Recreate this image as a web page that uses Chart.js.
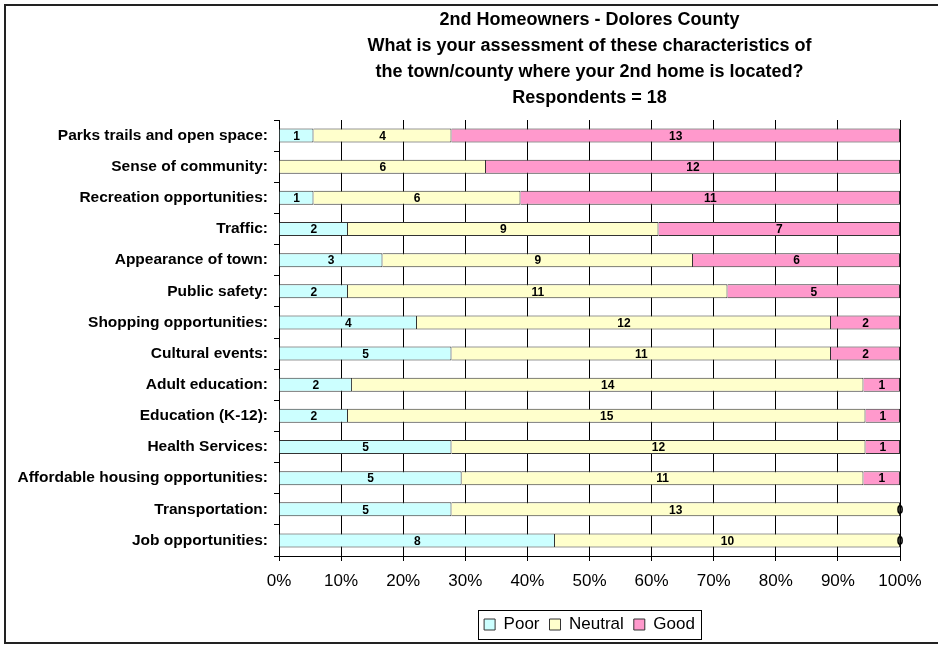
<!DOCTYPE html>
<html>
<head>
<meta charset="utf-8">
<script src="https://cdn.jsdelivr.net/npm/chart.js@4/dist/chart.umd.min.js"></script>
<style>
html,body{margin:0;padding:0;background:#fff;}
#wrap{width:938px;height:646px;position:relative;}
</style>
</head>
<body>
<div id="wrap"><canvas id="c" width="938" height="646"></canvas></div>
<script>
const categories = [
  "Parks trails and open space:",
  "Sense of community:",
  "Recreation opportunities:",
  "Traffic:",
  "Appearance of town:",
  "Public safety:",
  "Shopping opportunities:",
  "Cultural events:",
  "Adult education:",
  "Education (K-12):",
  "Health Services:",
  "Affordable housing opportunities:",
  "Transportation:",
  "Job opportunities:"
];
const poor    = [1, null, 1, 2, 3, 2, 4, 5, 2, 2, 5, 5, 5, 8];
const neutral = [4, 6, 6, 9, 9, 11, 12, 11, 14, 15, 12, 11, 13, 10];
const good    = [13, 12, 11, 7, 6, 5, 2, 2, 1, 1, 1, 1, 0, 0];
const seriesNames = ["Poor", "Neutral", "Good"];
const titleLines = [
  "2nd Homeowners - Dolores County",
  "What is your assessment of these characteristics of",
  "the town/county where your 2nd home is located?",
  "Respondents = 18"
];

const totals = categories.map((_, i) => (poor[i] || 0) + (neutral[i] || 0) + (good[i] || 0));
const pct = arr => arr.map((v, i) => v == null ? null : v / totals[i] * 100);
const raw = [poor, neutral, good];
const FONT = "'Liberation Sans', Arial, Helvetica, sans-serif";

const frame = {
  id: 'frame',
  afterDraw(chart) {
    const ctx = chart.ctx;
    ctx.save();
    ctx.strokeStyle = '#222';
    ctx.lineWidth = 2;
    ctx.beginPath();
    ctx.moveTo(940, 5); ctx.lineTo(5, 5); ctx.lineTo(5, 643); ctx.lineTo(940, 643);
    ctx.stroke();
    const lg = chart.legend;
    if (lg && lg.legendHitBoxes && lg.legendHitBoxes.length) {
      const hb = lg.legendHitBoxes;
      const l = Math.min(...hb.map(b => b.left)) - 6;
      const r = Math.max(...hb.map(b => b.left + b.width)) + 6;
      const t = Math.min(...hb.map(b => b.top)) - 6;
      const btm = Math.max(...hb.map(b => b.top + b.height)) + 6;
      ctx.lineWidth = 1;
      ctx.strokeStyle = '#000';
      ctx.strokeRect(Math.round(l) + 0.5, Math.round(t) + 0.5, Math.round(r - l), Math.round(btm - t));
    }
    ctx.restore();
  }
};

const labelsPlugin = {
  id: 'barLabels',
  afterDatasetsDraw(chart) {
    const ctx = chart.ctx;
    ctx.save();
    ctx.font = "bold 12px " + FONT;
    ctx.fillStyle = '#000';
    ctx.textAlign = 'center';
    ctx.textBaseline = 'middle';
    chart.data.datasets.forEach((ds, di) => {
      const meta = chart.getDatasetMeta(di);
      meta.data.forEach((el, i) => {
        const v = raw[di][i];
        if (v == null) return;
        const p = el.getProps(['x', 'y', 'base'], true);
        ctx.fillText(String(v), (p.x + p.base) / 2, p.y + 1);
      });
    });
    ctx.restore();
  }
};

Chart.defaults.color = '#000';
Chart.defaults.font.family = FONT;

new Chart(document.getElementById('c'), {
  type: 'bar',
  data: {
    labels: categories,
    datasets: [
      { label: seriesNames[0], data: pct(poor), backgroundColor: '#CCFFFF', borderColor: '#333', borderWidth: 1 },
      { label: seriesNames[1], data: pct(neutral), backgroundColor: '#FFFFCC', borderColor: '#333', borderWidth: 1 },
      { label: seriesNames[2], data: pct(good), backgroundColor: '#FF99CC', borderColor: '#333', borderWidth: 1 }
    ]
  },
  options: {
    indexAxis: 'y',
    responsive: false,
    animation: false,
    layout: { padding: { left: 10, right: 38, top: 0, bottom: 3 } },
    datasets: { bar: { barPercentage: 0.45, categoryPercentage: 1 } },
    scales: {
      x: {
        stacked: true,
        min: 0, max: 100,
        ticks: { stepSize: 10, callback: v => v + '%', font: { size: 17 }, color: '#000', padding: 10 },
        grid: { color: '#000', lineWidth: 1, tickLength: 5, drawOnChartArea: true },
        border: { color: '#000', width: 1 },
        afterFit: s => { s.height = 50; }
      },
      y: {
        stacked: true,
        ticks: { font: { size: 15.5, weight: 'bold' }, color: '#000', padding: 6 },
        grid: { drawOnChartArea: false, color: '#000', tickLength: 5, offset: true },
        border: { color: '#000', width: 1 },
        afterFit: s => { s.width = 269; }
      }
    },
    plugins: {
      title: {
        display: true,
        text: titleLines,
        fullSize: false,
        font: { size: 18, weight: 'bold', lineHeight: '26px' },
        color: '#000',
        padding: { top: 7, bottom: 9 }
      },
      legend: {
        position: 'bottom',
        fullSize: false,
        labels: { boxWidth: 11, boxHeight: 11, font: { size: 17 }, color: '#000', padding: 10 }
      },
      tooltip: { enabled: false }
    }
  },
  plugins: [frame, labelsPlugin]
});
</script>
</body>
</html>
